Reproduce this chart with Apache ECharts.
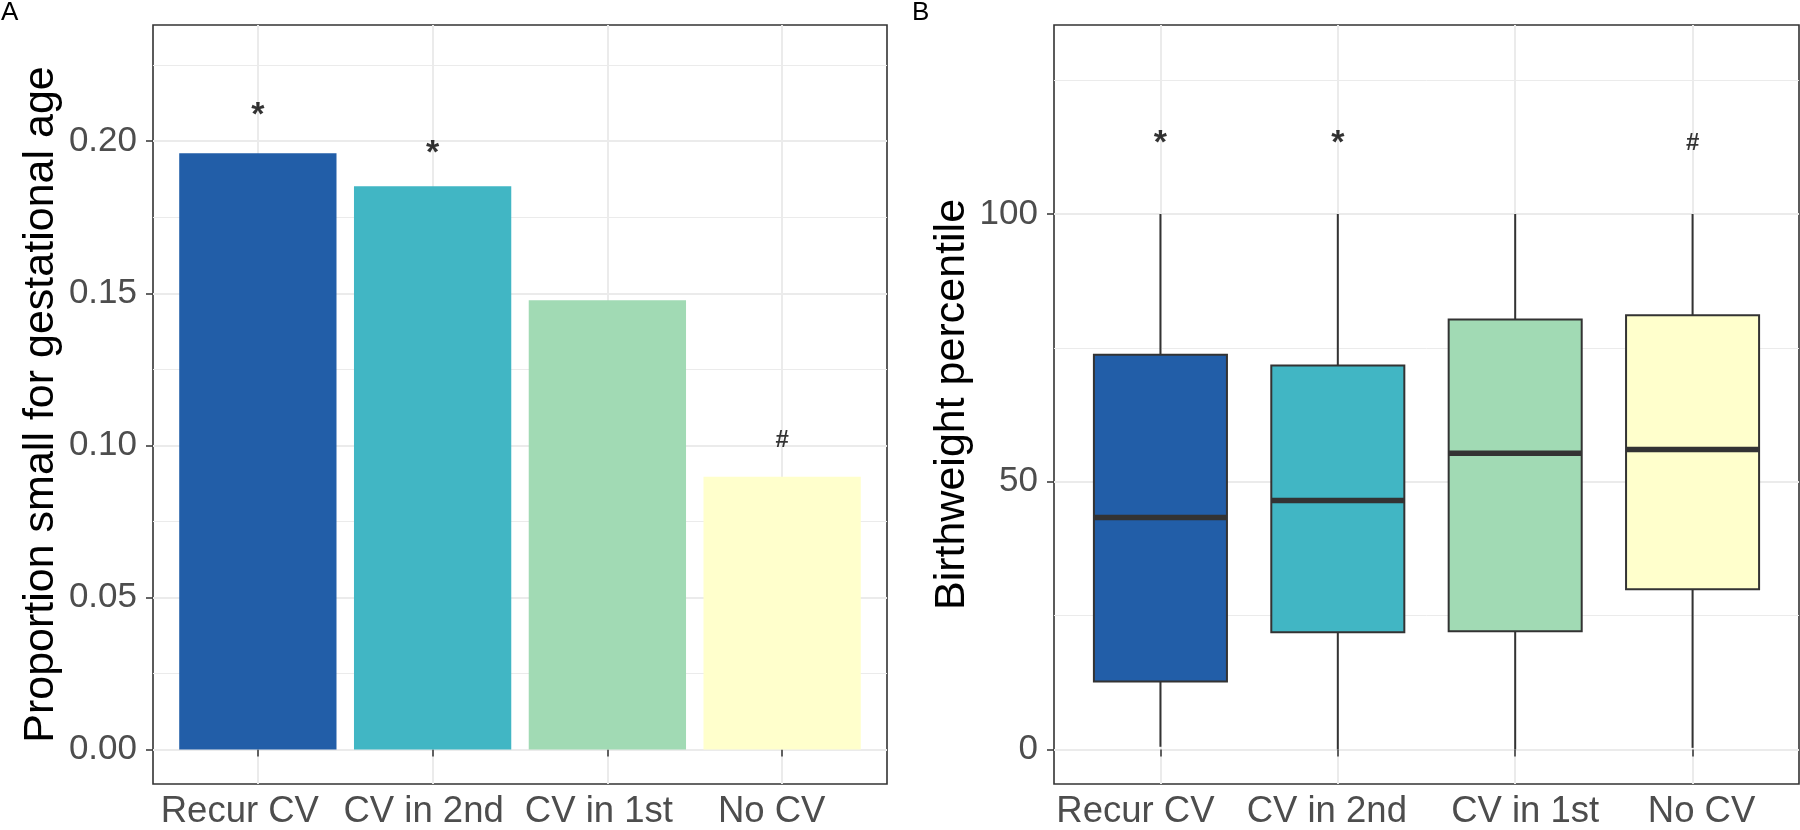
<!DOCTYPE html>
<html><head><meta charset="utf-8">
<script src="https://cdn.jsdelivr.net/npm/echarts@6/dist/echarts.min.js"></script>
<style>html,body{margin:0;padding:0;background:#fff}#c{width:1800px;height:830px}</style>
</head><body><div id="c"></div>
<script>
// ---- data ----
const categories = ['Recur CV', 'CV in 2nd', 'CV in 1st', 'No CV'];
const xPositions = [1, 2, 3, 4];
const colors = ['#225EA8', '#41B6C4', '#A1DAB4', '#FFFFCC'];
// Panel A: proportion small for gestational age
const sgaProportion = [0.196, 0.1852, 0.1477, 0.0897];
const sgaMarks = ['*', '*', '', '#'];
const sgaMarkY = [0.2084, 0.1959, null, 0.1015];
const yTicksA = [0, 0.05, 0.10, 0.15, 0.20];
const yMinorA = [0.025, 0.075, 0.125, 0.175, 0.225];
// Panel B: birthweight percentile boxplots
const bwLow = [0.5, 0, 0, 0.3];
const bwQ1 = [12.7, 21.9, 22.1, 29.9];
const bwMedian = [43.3, 46.5, 55.3, 56.0];
const bwQ3 = [73.7, 71.7, 80.3, 81.1];
const bwHigh = [100, 100, 100, 100];
const bwMarks = ['*', '*', '', '#'];
const bwMarkY = [113.2, 113.2, null, 113.2];
const yTicksB = [0, 50, 100];
const yMinorB = [25, 75, 125];

// ---- style ----
const FONT = "'Liberation Sans', Arial, sans-serif";
const GRID_MAJOR = { color: '#EBEBEB', width: 2 };
const GRID_MINOR = { color: '#EBEBEB', width: 1 };
const TICK = { color: '#333333', width: 1.5 };
// label offsets (padding [top,right,bottom,left]) to mimic reference label placement
const labelPadA = [[0, 36, 0, 0], [0, 18, 0, 0], [0, 17, 0, 0], [0, 21, 0, 0]];
const labelPadB = [[0, 50, 0, 0], [0, 22, 0, 0], [0, 0, 0, 20], [0, 0, 0, 18]];

const chart = echarts.init(document.getElementById('c'), null, { renderer: 'canvas' });

function xAxisFor(gridIndex, pads) {
  const rich = {};
  pads.forEach((p, i) => {
    rich['c' + i] = { fontSize: 36.5, color: '#4D4D4D', fontFamily: FONT, padding: p };
  });
  return {
    type: 'value', gridIndex, min: 0.4, max: 4.6,
    axisLine: { show: false },
    axisTick: { show: true, customValues: xPositions, length: 7, lineStyle: TICK },
    axisLabel: {
      customValues: xPositions, fontSize: 36.5, color: '#4D4D4D', fontFamily: FONT, margin: 9,
      formatter: v => {
        const i = Math.round(v) - 1;
        return categories[i] ? '{c' + i + '|' + categories[i] + '}' : '';
      },
      rich
    },
    splitLine: { show: true, lineStyle: GRID_MAJOR }
  };
}
function yMajor(gridIndex, min, max, ticks, fmt, name, gap) {
  return {
    type: 'value', gridIndex, min, max, position: 'left',
    name, nameLocation: 'middle', nameGap: gap,
    nameTextStyle: { fontSize: 43, color: '#000', fontFamily: FONT },
    axisLine: { show: false },
    axisTick: { show: true, customValues: ticks, length: 7, lineStyle: TICK },
    axisLabel: { customValues: ticks, fontSize: 35, color: '#4D4D4D', fontFamily: FONT, margin: 16, formatter: fmt },
    splitLine: { show: true, lineStyle: GRID_MAJOR }
  };
}
function yMinor(gridIndex, min, max, ticks) {
  return {
    type: 'value', gridIndex, min, max, position: 'right',
    axisLine: { show: false },
    axisTick: { show: false, customValues: ticks },
    axisLabel: { show: false, customValues: ticks },
    splitLine: { show: true, lineStyle: GRID_MINOR }
  };
}
const markLabel = {
  show: true, position: 'inside', fontFamily: FONT, color: '#000',
  formatter: p => (p.name === '*' ? '{s|*}' : '{h|' + p.name + '}'),
  rich: {
    s: { fontSize: 34, fontWeight: 'bold', color: '#000', fontFamily: FONT },
    h: { fontSize: 24, fontWeight: 'bold', color: '#000', fontFamily: FONT }
  }
};

const minA = -0.01133, maxA = 0.2382;
const minB = -6.45, maxB = 135.3;

const option = {
  animation: false,
  backgroundColor: '#fff',
  textStyle: { fontFamily: FONT },
  title: [
    { text: 'A', left: 1, top: 0, padding: 0, textStyle: { fontSize: 26, fontWeight: 'normal', color: '#000', fontFamily: FONT } },
    { text: 'B', left: 912, top: 0, padding: 0, textStyle: { fontSize: 26, fontWeight: 'normal', color: '#000', fontFamily: FONT } }
  ],
  grid: [
    { left: 153, top: 25, width: 734, height: 765, show: true, borderColor: '#333333', borderWidth: 1.6, backgroundColor: '#fff' },
    { left: 1054, top: 25, width: 745, height: 765, show: true, borderColor: '#333333', borderWidth: 1.6, backgroundColor: '#fff' }
  ],
  xAxis: [xAxisFor(0, labelPadA), xAxisFor(1, labelPadB)],
  yAxis: [
    yMajor(0, minA, maxA, yTicksA, v => v.toFixed(2), 'Proportion small for gestational age', 90),
    yMinor(0, minA, maxA, yMinorA),
    yMajor(1, minB, maxB, yTicksB, v => String(v), 'Birthweight percentile', 80),
    yMinor(1, minB, maxB, yMinorB)
  ],
  series: [
    {
      type: 'bar', xAxisIndex: 0, yAxisIndex: 0, barWidth: '90%', z: 3,
      data: xPositions.map((x, i) => ({ value: [x, sgaProportion[i]], itemStyle: { color: colors[i] } }))
    },
    {
      type: 'scatter', xAxisIndex: 0, yAxisIndex: 0, symbolSize: 0, z: 5, silent: true,
      data: xPositions.map((x, i) => ({ value: [x, sgaMarkY[i]], name: sgaMarks[i] })).filter(d => d.value[1] != null),
      label: markLabel
    },
    {
      type: 'custom', xAxisIndex: 1, yAxisIndex: 2, z: 3,
      encode: { x: 0, y: [1, 2, 3, 4, 5] },
      data: xPositions.map((x, i) => [x, bwLow[i], bwQ1[i], bwMedian[i], bwQ3[i], bwHigh[i]]),
      renderItem: function (params, api) {
        const x = api.value(0);
        const idx = params.dataIndex;
        const halfW = api.size([0.75, 0])[0] / 2;
        const pLo = api.coord([x, api.value(1)]);
        const pQ1 = api.coord([x, api.value(2)]);
        const pMed = api.coord([x, api.value(3)]);
        const pQ3 = api.coord([x, api.value(4)]);
        const pHi = api.coord([x, api.value(5)]);
        const ls = { stroke: '#333333', lineWidth: 2 };
        return {
          type: 'group',
          children: [
            { type: 'line', shape: { x1: pHi[0], y1: pHi[1], x2: pQ3[0], y2: pQ3[1] }, style: ls },
            { type: 'line', shape: { x1: pQ1[0], y1: pQ1[1], x2: pLo[0], y2: pLo[1] }, style: ls },
            { type: 'rect', shape: { x: pQ3[0] - halfW, y: pQ3[1], width: 2 * halfW, height: pQ1[1] - pQ3[1] },
              style: { fill: colors[idx], stroke: '#333333', lineWidth: 2 } },
            { type: 'line', shape: { x1: pMed[0] - halfW, y1: pMed[1], x2: pMed[0] + halfW, y2: pMed[1] },
              style: { stroke: '#333333', lineWidth: 5.5 } }
          ]
        };
      }
    },
    {
      type: 'scatter', xAxisIndex: 1, yAxisIndex: 2, symbolSize: 0, z: 5, silent: true,
      data: xPositions.map((x, i) => ({ value: [x, bwMarkY[i]], name: bwMarks[i] })).filter(d => d.value[1] != null),
      label: markLabel
    }
  ]
};
chart.setOption(option);
</script></body></html>
